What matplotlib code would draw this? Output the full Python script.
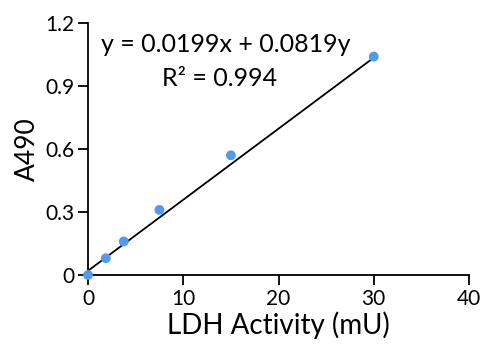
import numpy as np
import matplotlib
matplotlib.use("Agg")
import matplotlib.pyplot as plt

plt.rcParams['font.family'] = ['Lato', 'DejaVu Sans']

activity = [0, 1.875, 3.75, 7.5, 15, 30]
a490 = [0, 0.08, 0.16, 0.31, 0.57, 1.04]
trend_x = [0, 30]
trend_y = [0.02, 1.035]
x_ticks = [0, 10, 20, 30, 40]
y_ticks = [0, 0.3, 0.6, 0.9, 1.2]
y_tick_labels = ["0", "0.3", "0.6", "0.9", "1.2"]
equation = "y = 0.0199x + 0.0819y"
r2_text = "R² = 0.994"

fig = plt.figure(figsize=(4.8, 3.49), dpi=100)
ax = fig.add_axes([88/480, 1-275/349, (469-88)/480, (275-23)/349])

ax.plot(trend_x, trend_y, color='black', lw=1.3, zorder=2)
ax.scatter(activity, a490, s=50, color='#4f9bf0', zorder=3, clip_on=False, edgecolors='none')

ax.set_xlim(0, 40)
ax.set_ylim(0, 1.2)
ax.set_xticks(x_ticks)
ax.set_yticks(y_ticks)
ax.set_yticklabels(y_tick_labels)
for s in ['top', 'right']:
    ax.spines[s].set_visible(False)
for s in ['left', 'bottom']:
    ax.spines[s].set_linewidth(1.3)
ax.tick_params(direction='out', length=7, width=1.3, labelsize=15, pad=3)
ax.set_xlabel("LDH Activity (mU)", fontsize=20, labelpad=2)
ax.set_ylabel("A490", fontsize=19, labelpad=4)

ax.text(0.362, 0.913, equation, transform=ax.transAxes, ha='center', va='center', fontsize=18)
ax.text(0.345, 0.78, r2_text, transform=ax.transAxes, ha='center', va='center', fontsize=18)

fig.savefig("out.png", dpi=100)
